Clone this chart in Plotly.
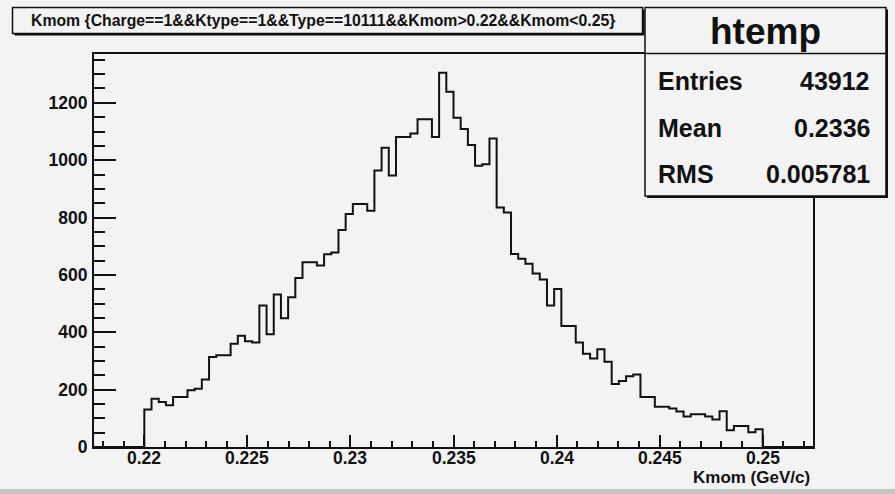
import numpy as np
import plotly.graph_objects as go

# ---- histogram content -------------------------------------------------
n_bins = 100            # bins on the axis
first_filled_bin = 7    # bins below 0.22 are empty
kmom_low, kmom_high = 0.22, 0.25

counts = [131, 168, 157, 146, 174, 174, 198, 203, 235, 314,
          320, 320, 360, 388, 369, 364, 493, 393, 532, 449,
          522, 589, 644, 644, 633, 672, 678, 757, 812, 847,
          847, 824, 964, 1043, 947, 1081, 1081, 1093, 1143, 1143,
          1081, 1305, 1239, 1148, 1109, 1053, 981, 986, 1076, 835,
          818, 673, 656, 639, 605, 584, 493, 551, 422, 422,
          364, 325, 309, 341, 297, 220, 230, 247, 253, 174,
          174, 140, 140, 134, 124, 106, 114, 114, 106, 96,
          125, 58, 73, 73, 51, 62]

x_tick_vals = [0.22, 0.225, 0.23, 0.235, 0.24, 0.245, 0.25]
x_tick_text = ["0.22", "0.225", "0.23", "0.235", "0.24", "0.245", "0.25"]
y_tick_vals = [0, 200, 400, 600, 800, 1000, 1200]

title_text = "Kmom {Charge==1&&Ktype==1&&Type==10111&&Kmom>0.22&&Kmom<0.25}"
stats_name = "htemp"
stats_labels = ["Entries", "Mean", "RMS"]
stats_values = ["43912", "0.2336", "0.005781"]
x_title = "Kmom (GeV/c)"

# ---- binning -----------------------------------------------------------
n_filled = len(counts)
bw = (kmom_high - kmom_low) / n_filled
x_min = kmom_low - first_filled_bin * bw
x_max = x_min + n_bins * bw
edges = kmom_low + bw * np.arange(n_filled + 1)

# step outline: along zero, up into the filled bins, back to zero
xs = [x_min] + list(edges[:-1]) + [edges[-1], x_max]
ys = [0] + list(counts) + [0, 0]

y_max = 1.05 * max(counts)

# ---- page geometry (pixels) -------------------------------------------
W, H = 895, 494
L, R, T, B = 94, 82, 54, 47
PW, PH = W - L - R, H - T - B

def px(x):
    return (x - L) / PW

def py(y):
    return (H - B - y) / PH

BG = "#f3f3f3"
INK = "#111111"
FONT = "Liberation Sans, Arial, Helvetica, sans-serif"
TICK_SIZE = 17.5

fig = go.Figure()
fig.add_trace(go.Scatter(
    x=xs, y=ys, mode="lines", line_shape="hv",
    line=dict(color=INK, width=2), hoverinfo="skip", showlegend=False,
))

shapes = []
annotations = []

def box(x0, y0, x1, y1, shadow=2):
    shapes.append(dict(type="rect", xref="paper", yref="paper", layer="above",
                       x0=px(x0 + shadow), x1=px(x1 + shadow),
                       y0=py(y0 + shadow), y1=py(y1 + shadow),
                       fillcolor=INK, line=dict(width=0)))
    shapes.append(dict(type="rect", xref="paper", yref="paper", layer="above",
                       x0=px(x0), x1=px(x1), y0=py(y0), y1=py(y1),
                       fillcolor=BG, line=dict(color=INK, width=1.5)))

def text(s, x, y, size, xanchor="left"):
    annotations.append(dict(text="<b>%s</b>" % s, x=px(x), y=py(y),
                            xref="paper", yref="paper", showarrow=False,
                            xanchor=xanchor, yanchor="middle",
                            font=dict(family=FONT, size=size, color=INK)))

# title box
box(12.5, 7.5, 642.5, 33.5)
text(title_text, 323, 21, 15.8, "center")

# statistics box
box(645, 7.5, 886, 196)
shapes.append(dict(type="line", xref="paper", yref="paper", layer="above",
                   x0=px(645), x1=px(886), y0=py(53.5), y1=py(53.5),
                   line=dict(color=INK, width=1.5)))
text(stats_name, 765.5, 31, 37, "center")
for i, (lab, val) in enumerate(zip(stats_labels, stats_values)):
    yc = 81 + i * 46.5
    text(lab, 656, yc, 25)
    text(val, 872, yc, 25, "right")

# x tick labels, placed on the x scale just under the frame
for v, lab in zip(x_tick_vals, x_tick_text):
    annotations.append(dict(text="<b>%s</b>" % lab, x=v, xref="x",
                            y=py(457.5), yref="paper", showarrow=False,
                            xanchor="center", yanchor="middle",
                            font=dict(family=FONT, size=TICK_SIZE, color=INK)))

# axis title
text(x_title, 812, 477.5, 17, "right")

# bottom canvas border
shapes.append(dict(type="rect", xref="paper", yref="paper", layer="below",
                   x0=px(0), x1=px(W), y0=py(489), y1=py(H),
                   fillcolor="#c4c4c4", line=dict(width=0)))

tickfont = dict(family=FONT, size=TICK_SIZE, color=INK, weight="bold")

fig.update_layout(
    width=W, height=H,
    margin=dict(l=L, r=R, t=T, b=B),
    paper_bgcolor=BG, plot_bgcolor=BG,
    shapes=shapes, annotations=annotations,
    xaxis=dict(
        range=[x_min, x_max], showgrid=False, zeroline=False,
        showline=True, linecolor=INK, linewidth=2, mirror=True,
        tickmode="array", tickvals=x_tick_vals, showticklabels=False,
        ticks="inside", ticklen=12, tickwidth=1.5, tickcolor=INK,
        minor=dict(tickmode="linear", tick0=kmom_low, dtick=0.001,
                   ticks="inside", ticklen=6, tickwidth=1.5, tickcolor=INK),
    ),
    yaxis=dict(
        range=[0, y_max], showgrid=False, zeroline=False,
        showline=True, linecolor=INK, linewidth=2, mirror=True,
        tickmode="array", tickvals=y_tick_vals,
        ticktext=[str(v) for v in y_tick_vals],
        ticks="inside", ticklen=22, tickwidth=1.5, tickcolor=INK,
        tickfont=tickfont, ticklabelstandoff=1,
        minor=dict(tickmode="linear", tick0=0, dtick=50,
                   ticks="inside", ticklen=11, tickwidth=1.5, tickcolor=INK),
    ),
)

fig.write_html("out.html")
